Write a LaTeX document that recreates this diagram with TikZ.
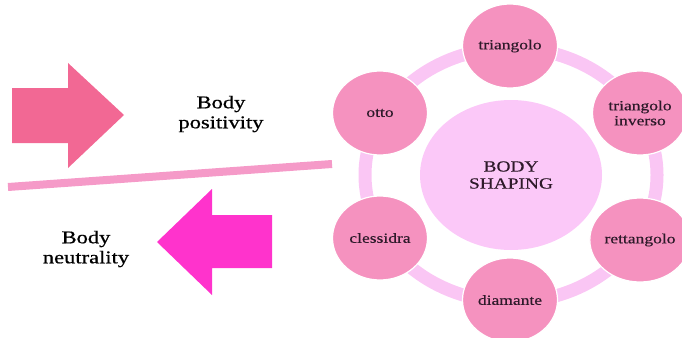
\documentclass[tikz,border=0pt]{standalone}
\usepackage{fontspec}
\setmainfont[FakeStretch=1.25]{Liberation Serif}
\newfontfamily\heavyserif[FakeStretch=1.25,FakeBold=0.7]{Liberation Serif}
\newfontfamily\labelserif[FakeStretch=1.25,FakeBold=0.4]{Liberation Serif}
\usetikzlibrary{shapes.geometric}
\definecolor{ringpink}{HTML}{FAC6F4}
\definecolor{hubpink}{HTML}{FBC8F8}
\definecolor{petal}{HTML}{F592BF}
\definecolor{inkdark}{HTML}{2E1A2A}
\definecolor{arrowrose}{HTML}{F26894}
\definecolor{arrowmagenta}{HTML}{FF33CC}
\definecolor{divider}{HTML}{F59AC8}
\tikzset{
  petalnode/.style={ellipse, fill=petal, draw=white, line width=1.2pt,
    minimum width=95pt, minimum height=84pt, inner sep=0pt,
    text=inkdark, font=\labelserif\fontsize{14}{15}\selectfont, align=center},
  hubnode/.style={ellipse, fill=hubpink, minimum width=182pt, minimum height=150pt,
    inner sep=0pt, text=inkdark, font=\labelserif\fontsize{15.5}{17}\selectfont, align=center},
  sidelabel/.style={text=black, font=\heavyserif\fontsize{18}{20}\selectfont, align=center},
}
\begin{document}
\begin{tikzpicture}[x=1pt,y=-1pt]
  \useasboundingbox (0,0) rectangle (682,337);
  % block arrows
  \fill[arrowrose] (12,88) -- (68,88) -- (68,63) -- (124,115) -- (68,168) -- (68,143) -- (12,143) -- cycle;
  \fill[arrowmagenta] (272,215) -- (212,215) -- (212,189) -- (157,242) -- (212,295) -- (212,268) -- (272,268) -- cycle;
  % dividing stroke
  \draw[divider, line width=8pt] (8,187) -- (332,164);
  % side labels
  \node[sidelabel] (pos) at (221,114) {Body\\positivity};
  \node[sidelabel] (neu) at (86,249) {Body\\neutrality};
  % ring behind the shapes
  \draw[ringpink, line width=13pt] (511,175) ellipse [x radius=146, y radius=127];
  % hub and shapes
  \node[hubnode] (hub) at (511,175) {BODY\\SHAPING};
  \node[petalnode] (tri) at (510,46) {triangolo};
  \node[petalnode] (inv) at (640,113) {triangolo\\inverso};
  \node[petalnode] (ret) at (640,240) {rettangolo};
  \node[petalnode] (dia) at (510,300) {diamante};
  \node[petalnode] (cle) at (380,238) {clessidra};
  \node[petalnode] (otto) at (380,113) {otto};
\end{tikzpicture}
\end{document}
